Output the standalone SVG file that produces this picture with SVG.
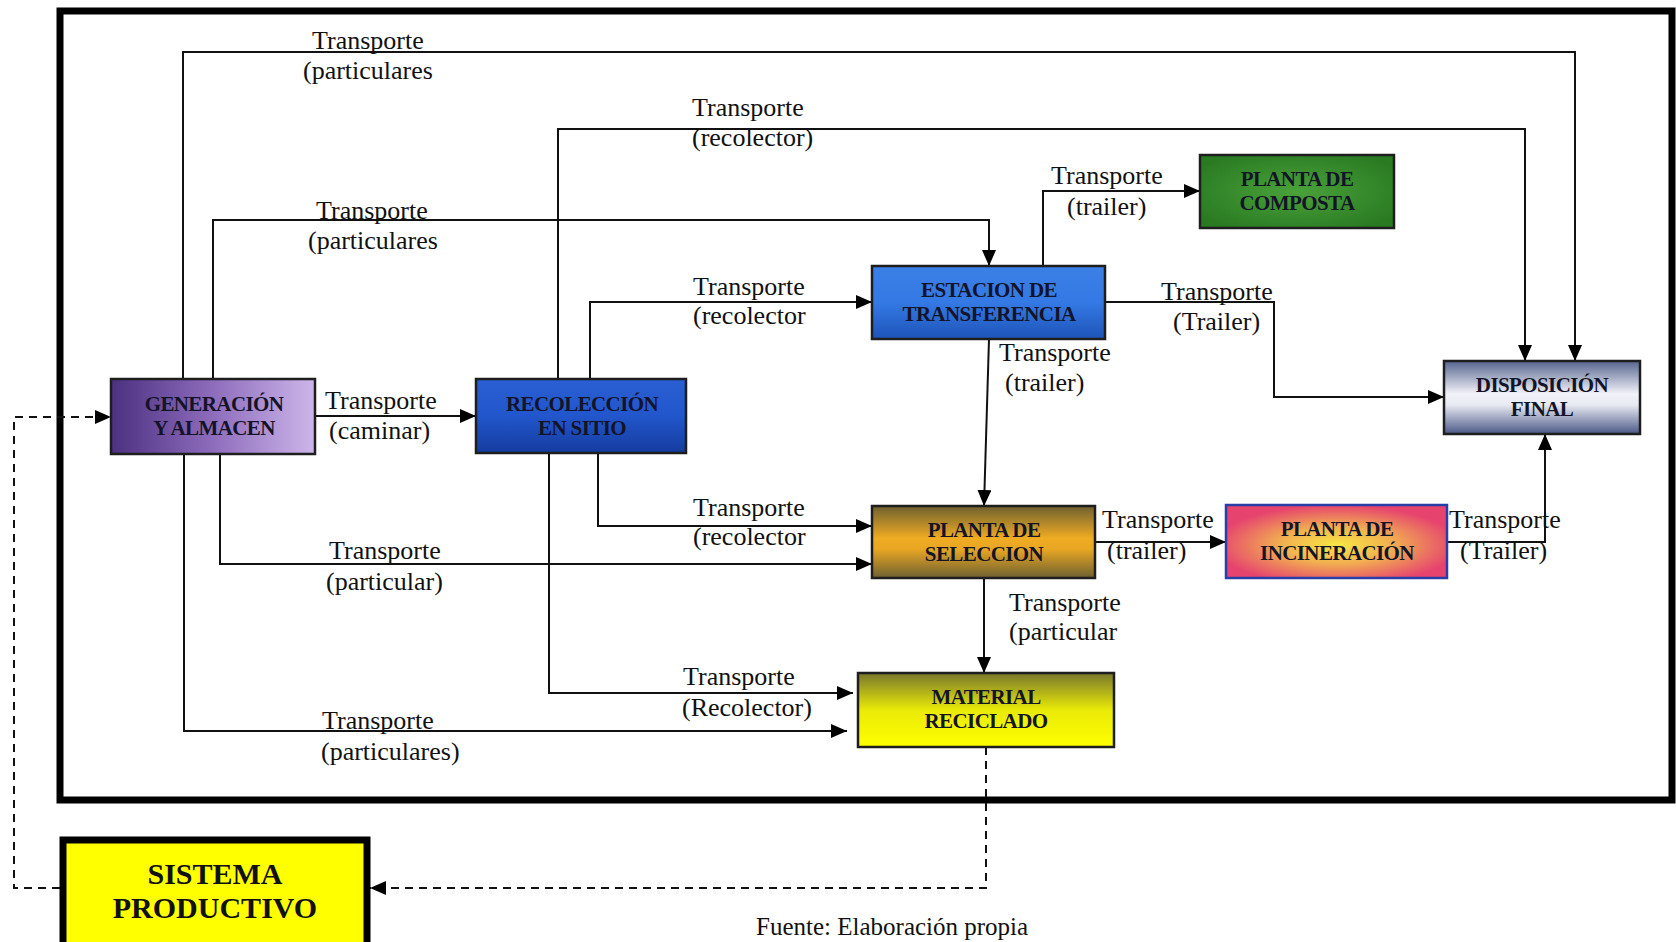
<svg xmlns="http://www.w3.org/2000/svg" width="1676" height="942" viewBox="0 0 1676 942">
  <style>
    .lbl { font-family: "Liberation Serif", "Times New Roman", serif; font-size: 26px; fill: #111; }
    .nt { font-family: "Liberation Serif", "Times New Roman", serif; font-size: 21px; font-weight: bold; fill: #141428; text-anchor: middle; letter-spacing: -0.6px; }
    .big { font-family: "Liberation Serif", "Times New Roman", serif; font-size: 30px; font-weight: bold; fill: #111; text-anchor: middle; }
    .box { stroke: #1e1e1e; stroke-width: 2.5; }
    .ln { fill: none; stroke: #111; stroke-width: 2; marker-end: url(#arr); }
    .dash { fill: none; stroke: #111; stroke-width: 2; stroke-dasharray: 8 6; }
  </style>
  <defs>
    <marker id="arr" markerUnits="userSpaceOnUse" markerWidth="17" markerHeight="14" refX="16" refY="7" orient="auto">
      <path d="M0,0 L16,7 L0,14 z" fill="#000"/>
    </marker>
    <linearGradient id="gGen" x1="0" y1="0" x2="1" y2="0">
      <stop offset="0" stop-color="#4b3180"/>
      <stop offset="0.5" stop-color="#8e6cbc"/>
      <stop offset="1" stop-color="#cdb6ea"/>
    </linearGradient>
    <linearGradient id="gRec" x1="0" y1="0" x2="0" y2="1">
      <stop offset="0" stop-color="#2a5ed2"/>
      <stop offset="0.5" stop-color="#2256cc"/>
      <stop offset="1" stop-color="#143c9e"/>
    </linearGradient>
    <linearGradient id="gEst" x1="0" y1="0" x2="0" y2="1">
      <stop offset="0" stop-color="#3a80e6"/>
      <stop offset="0.5" stop-color="#3479e4"/>
      <stop offset="1" stop-color="#1d54b8"/>
    </linearGradient>
    <radialGradient id="gCom" cx="0.5" cy="0.5" r="0.6">
      <stop offset="0" stop-color="#4aa23a"/>
      <stop offset="1" stop-color="#2a7a22"/>
    </radialGradient>
    <linearGradient id="gDis" x1="0" y1="0" x2="0" y2="1">
      <stop offset="0" stop-color="#56658f"/>
      <stop offset="0.45" stop-color="#f2f2f8"/>
      <stop offset="0.6" stop-color="#e8eaf2"/>
      <stop offset="1" stop-color="#4a5886"/>
    </linearGradient>
    <linearGradient id="gSel" x1="0" y1="0" x2="0" y2="1">
      <stop offset="0" stop-color="#6e6030"/>
      <stop offset="0.45" stop-color="#f0ac22"/>
      <stop offset="0.6" stop-color="#e8a624"/>
      <stop offset="1" stop-color="#6e6030"/>
    </linearGradient>
    <radialGradient id="gInc" cx="0.5" cy="0.55" r="0.55">
      <stop offset="0" stop-color="#f6e844"/>
      <stop offset="0.45" stop-color="#f2b050"/>
      <stop offset="1" stop-color="#e6446e"/>
    </radialGradient>
    <linearGradient id="gMat" x1="0" y1="0" x2="0" y2="1">
      <stop offset="0" stop-color="#77772c"/>
      <stop offset="0.5" stop-color="#eaea08"/>
      <stop offset="1" stop-color="#ffff00"/>
    </linearGradient>
  </defs>

  <rect width="1676" height="942" fill="#ffffff"/>

  <!-- system boundary -->
  <rect x="60" y="11" width="1612" height="789" fill="none" stroke="#000" stroke-width="7"/>

  <!-- connectors -->
  <g id="connectors">
    <path class="ln" d="M183,379 V52 H1575 V361"/>
    <path class="ln" d="M558,379 V129 H1525 V361"/>
    <path class="ln" d="M213,379 V220 H989 V266"/>
    <path class="ln" d="M590,379 V302 H872"/>
    <path class="ln" d="M1043,266 V191 H1200"/>
    <path class="ln" d="M1105,302 H1274 V397 H1444"/>
    <path class="ln" d="M989,339 L984,506"/>
    <path class="ln" d="M315,416 H476"/>
    <path class="ln" d="M598,453 V526 H872"/>
    <path class="ln" d="M220,454 V564 H872"/>
    <path class="ln" d="M549,453 V693 H853"/>
    <path class="ln" d="M184,454 V731 H847"/>
    <path class="ln" d="M984,578 V673"/>
    <path class="ln" d="M1095,542 H1226"/>
    <path class="ln" d="M1428,542 H1545 V434"/>
    <path class="dash" d="M986,747 V888 H370" marker-end="url(#arr)"/>
    <path class="dash" d="M60,888 H14 V417 H111" marker-end="url(#arr)"/>

    <text class="lbl" x="312" y="49">Transporte</text>
    <text class="lbl" x="303" y="79">(particulares</text>
    <text class="lbl" x="692" y="116">Transporte</text>
    <text class="lbl" x="692" y="146">(recolector)</text>
    <text class="lbl" x="316" y="219">Transporte</text>
    <text class="lbl" x="308" y="249">(particulares</text>
    <text class="lbl" x="693" y="295">Transporte</text>
    <text class="lbl" x="693" y="324">(recolector</text>
    <text class="lbl" x="1051" y="184">Transporte</text>
    <text class="lbl" x="1067" y="215">(trailer)</text>
    <text class="lbl" x="1161" y="300">Transporte</text>
    <text class="lbl" x="1173" y="330">(Trailer)</text>
    <text class="lbl" x="999" y="361">Transporte</text>
    <text class="lbl" x="1005" y="391">(trailer)</text>
    <text class="lbl" x="325" y="409">Transporte</text>
    <text class="lbl" x="329" y="439">(caminar)</text>
    <text class="lbl" x="693" y="516">Transporte</text>
    <text class="lbl" x="693" y="545">(recolector</text>
    <text class="lbl" x="329" y="559">Transporte</text>
    <text class="lbl" x="326" y="590">(particular)</text>
    <text class="lbl" x="683" y="685">Transporte</text>
    <text class="lbl" x="682" y="716">(Recolector)</text>
    <text class="lbl" x="322" y="729">Transporte</text>
    <text class="lbl" x="321" y="760">(particulares)</text>
    <text class="lbl" x="1009" y="611">Transporte</text>
    <text class="lbl" x="1009" y="640">(particular</text>
    <text class="lbl" x="1102" y="528">Transporte</text>
    <text class="lbl" x="1107" y="559">(trailer)</text>
    <text class="lbl" x="1449" y="528">Transporte</text>
    <text class="lbl" x="1460" y="559">(Trailer)</text>
  </g>

  <!-- nodes -->
  <g id="generacion">
    <rect class="box" x="111" y="379" width="204" height="75" fill="url(#gGen)"/>
    <text class="nt" x="214" y="411">GENERACIÓN</text>
    <text class="nt" x="214" y="435">Y ALMACEN</text>
  </g>
  <g id="recoleccion">
    <rect class="box" x="476" y="379" width="210" height="74" fill="url(#gRec)"/>
    <text class="nt" x="582" y="411">RECOLECCIÓN</text>
    <text class="nt" x="582" y="435">EN SITIO</text>
  </g>
  <g id="estacion">
    <rect class="box" x="872" y="266" width="233" height="73" fill="url(#gEst)"/>
    <text class="nt" x="989" y="297">ESTACION DE</text>
    <text class="nt" x="989" y="321">TRANSFERENCIA</text>
  </g>
  <g id="composta">
    <rect class="box" x="1200" y="155" width="194" height="73" fill="url(#gCom)"/>
    <text class="nt" x="1297" y="186">PLANTA DE</text>
    <text class="nt" x="1297" y="210">COMPOSTA</text>
  </g>
  <g id="disposicion">
    <rect class="box" x="1444" y="361" width="196" height="73" fill="url(#gDis)"/>
    <text class="nt" x="1542" y="392">DISPOSICIÓN</text>
    <text class="nt" x="1542" y="416">FINAL</text>
  </g>
  <g id="seleccion">
    <rect class="box" x="872" y="506" width="223" height="72" fill="url(#gSel)"/>
    <text class="nt" x="984" y="537">PLANTA DE</text>
    <text class="nt" x="984" y="561">SELECCION</text>
  </g>
  <g id="incineracion">
    <rect x="1226" y="505" width="221" height="73" fill="url(#gInc)" stroke="#2a3ea8" stroke-width="2.5"/>
    <text class="nt" x="1337" y="536">PLANTA DE</text>
    <text class="nt" x="1337" y="560">INCINERACIÓN</text>
  </g>
  <g id="material">
    <rect class="box" x="858" y="673" width="256" height="74" fill="url(#gMat)"/>
    <text class="nt" x="986" y="704">MATERIAL</text>
    <text class="nt" x="986" y="728">RECICLADO</text>
  </g>
  <g id="sistema">
    <rect x="63" y="840" width="304" height="110" fill="#ffff00" stroke="#000" stroke-width="7"/>
    <text class="big" x="215" y="884">SISTEMA</text>
    <text class="big" x="215" y="918">PRODUCTIVO</text>
  </g>

  <text class="lbl" x="756" y="935" style="font-size:25px">Fuente: Elaboración propia</text>
</svg>
